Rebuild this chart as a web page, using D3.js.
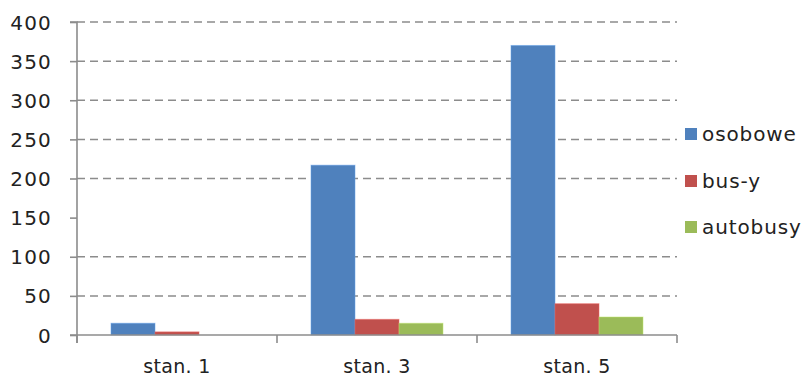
<!DOCTYPE html>
<html>
<head>
<meta charset="utf-8">
<script src="https://cdn.jsdelivr.net/npm/d3@7"></script>
<style>
  html, body { margin: 0; padding: 0; background: #fff; }
  svg { display: block; }
  text { font-family: "DejaVu Sans", Verdana, sans-serif; fill: #222; }
</style>
</head>
<body>
<svg id="chart" width="801" height="378"></svg>
<script>
// Vehicle counts per station
const categories = ["stan. 1", "stan. 3", "stan. 5"];
const seriesNames = ["osobowe", "bus-y", "autobusy"];
const osobowe = [15, 217, 370];
const busy = [4, 20, 40];
const autobusy = [0, 15, 23];
const yTicks = [0, 50, 100, 150, 200, 250, 300, 350, 400];
const gridValues = [50, 100, 200, 250, 300, 350, 400];
const colors = ["#4F81BD", "#C0504D", "#9BBB59"];

(function () {
  const seriesValues = [osobowe, busy, autobusy];
  const rows = categories.map((c, i) => ({
    cat: c,
    vals: seriesNames.map((s, j) => ({ key: s, value: seriesValues[j][i], color: colors[j] }))
  }));

  const svg = d3.select("#chart");
  const plotLeft = 77, plotRight = 677, plotTop = 22, plotBottom = 335;

  const x = d3.scaleBand().domain(categories).range([plotLeft, plotRight]);
  // three bars of 22% of a category each, centred in the category
  const barW = x.bandwidth() * 0.22;
  const groupOffset = (x.bandwidth() - barW * 3) / 2;
  const xs = d3.scaleBand().domain(seriesNames).range([groupOffset, groupOffset + barW * 3]);

  const y = d3.scaleLinear().domain([0, 400]).range([plotBottom, plotTop]);

  // dashed grid lines
  svg.append("g").selectAll("line").data(gridValues).join("line")
    .attr("x1", plotLeft).attr("x2", plotRight)
    .attr("y1", d => y(d)).attr("y2", d => y(d))
    .attr("stroke", "#8c8c8c").attr("stroke-width", 1.5)
    .attr("stroke-dasharray", "8,5");

  // bars
  const g = svg.append("g");
  rows.forEach(r => {
    g.selectAll(null).data(r.vals).join("rect")
      .attr("x", d => x(r.cat) + xs(d.key))
      .attr("width", xs.bandwidth())
      .attr("y", d => y(d.value))
      .attr("height", d => y(0) - y(d.value))
      .attr("fill", d => d.color)
      .attr("stroke", d => d3.color(d.color).brighter(0.6))
      .attr("stroke-opacity", 0.5)
      .attr("stroke-width", 1);
  });

  // y axis
  const yAxis = d3.axisLeft(y).tickValues(yTicks).tickSize(7).tickPadding(18).tickFormat(d3.format("d"));
  const gy = svg.append("g").attr("transform", `translate(${plotLeft},0)`).call(yAxis);
  gy.select(".domain").attr("stroke", "#8c8c8c").attr("stroke-width", 1.6)
    .attr("d", `M-7,${plotTop}H0V${plotBottom + 8}`);
  gy.selectAll(".tick line").attr("stroke", "#8c8c8c").attr("stroke-width", 1.6);
  gy.selectAll(".tick text")
    .style("font-size", "20px").style("letter-spacing", "1.2px")
    .attr("fill", "#222").attr("dy", "0.35em");

  // x axis
  const xAxis = d3.axisBottom(x).tickSize(0).tickPadding(25);
  const gx = svg.append("g").attr("transform", `translate(0,${plotBottom})`).call(xAxis);
  gx.select(".domain").attr("stroke", "#8c8c8c").attr("stroke-width", 1.6)
    .attr("d", `M${plotLeft - 7},0H${plotRight}`);
  gx.selectAll(".tick text").style("font-size", "19px").style("letter-spacing", "0.3px").attr("fill", "#222");
  // category boundary ticks
  const bounds = categories.map(c => x(c)).concat([plotRight]);
  gx.append("g").selectAll("line").data(bounds).join("line")
    .attr("x1", d => d).attr("x2", d => d).attr("y1", 0).attr("y2", 8)
    .attr("stroke", "#8c8c8c").attr("stroke-width", 1.6);

  // legend
  const legend = svg.append("g");
  const legY = [134, 181, 227];
  seriesNames.forEach((s, i) => {
    legend.append("rect").attr("x", 685).attr("y", legY[i] - 6).attr("width", 12).attr("height", 12)
      .attr("fill", colors[i]);
    legend.append("text").attr("x", 702).attr("y", legY[i]).attr("dy", "0.35em")
      .style("font-size", "20px").style("letter-spacing", "0.9px").text(s);
  });
})();
</script>
</body>
</html>
